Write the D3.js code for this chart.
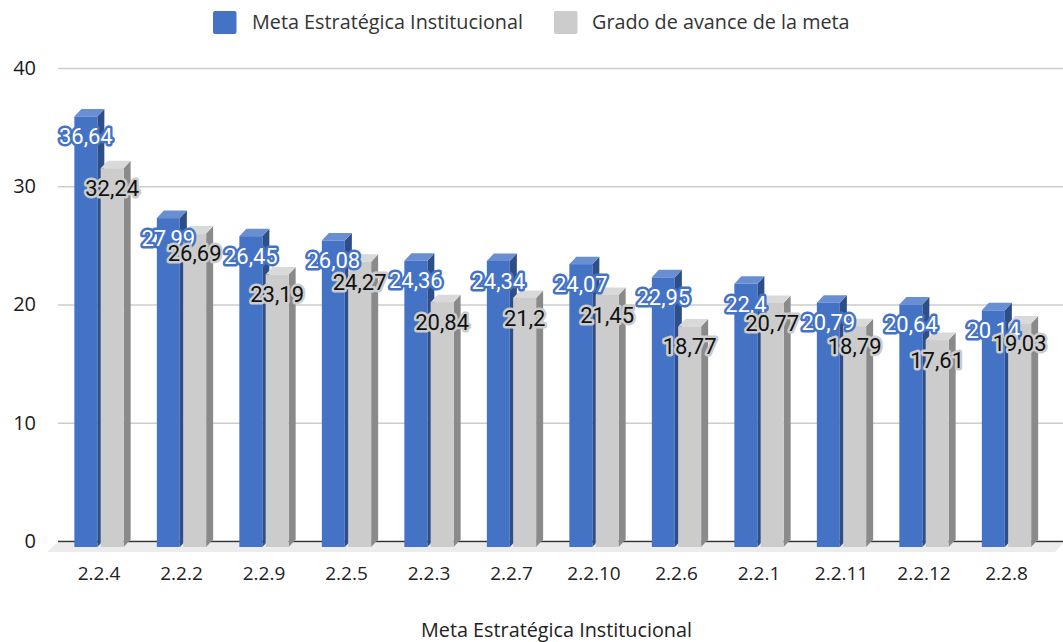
<!DOCTYPE html>
<html>
<head>
<meta charset="utf-8">
<script src="https://d3js.org/d3.v7.min.js"></script>
<style>
body { margin: 0; background: #fff; }
text { font-family: "Open Sans", sans-serif; }
</style>
</head>
<body>
<script>
var categories = ['2.2.4', '2.2.2', '2.2.9', '2.2.5', '2.2.3', '2.2.7', '2.2.10', '2.2.6', '2.2.1', '2.2.11', '2.2.12', '2.2.8'];
var meta = [36.64, 27.99, 26.45, 26.08, 24.36, 24.34, 24.07, 22.95, 22.4, 20.79, 20.64, 20.14];
var avance = [32.24, 26.69, 23.19, 24.27, 20.84, 21.2, 21.45, 18.77, 20.77, 18.79, 17.61, 19.03];
var metaLabels = ['36,64', '27,99', '26,45', '26,08', '24,36', '24,34', '24,07', '22,95', '22,4', '20,79', '20,64', '20,14'];
var avanceLabels = ['32,24', '26,69', '23,19', '24,27', '20,84', '21,2', '21,45', '18,77', '20,77', '18,79', '17,61', '19,03'];
var seriesNames = ['Meta Estratégica Institucional', 'Grado de avance de la meta'];
var yTicks = [0, 10, 20, 30, 40];

var width = 1063;
var height = 642;
var depthX = 7;
var depthY = 7.5;

var svg = d3.select('body')
    .append('svg')
    .attr('width', width)
    .attr('height', height)
    .style('display', 'block');

// the back wall sits higher than the front of the bars, so two y scales
var yWall = d3.scaleLinear().domain([0, 40]).range([541, 68]);
var yBar = d3.scaleLinear().domain([0, 40]).range([547, 77]);

var x0 = d3.scaleBand().domain(categories).range([57.75, 1047.75]);
var x1 = d3.scaleBand().domain(seriesNames)
    .range([x0.bandwidth() / 2 - 24.65, x0.bandwidth() / 2 + 24.65])
    .paddingInner(0.1255);

// floor
svg.append('path')
    .attr('d', 'M47,552 L57,543 L1063,543 L1055,552 Z')
    .attr('fill', '#ececec');

// grid
var yAxis = d3.axisLeft(yWall).tickValues(yTicks).tickSize(-(width - 58)).tickPadding(20);
var gy = svg.append('g').attr('transform', 'translate(58,0)').call(yAxis);
gy.select('.domain').remove();
gy.selectAll('.tick line')
    .attr('stroke', function(d) { return d === 0 ? '#333333' : '#cccccc'; })
    .attr('stroke-width', 1.6);
gy.selectAll('.tick text')
    .attr('x', -22)
    .attr('fill', '#1a1a1a')
    .style('font-family', '"Open Sans", sans-serif')
    .style('font-size', '20px');

var xAxis = d3.axisBottom(x0).tickSize(0).tickPadding(0);
var gx = svg.append('g').attr('transform', 'translate(0,566)').call(xAxis);
gx.select('.domain').remove();
gx.selectAll('.tick text')
    .attr('fill', '#222222')
    .style('font-family', '"Open Sans", sans-serif')
    .style('font-size', '19px');

var styles = [
    { front: '#4472c4', top: '#6a8ed2', side: '#2e4e88', text: '#ffffff', halo: '#4472c4' },
    { front: '#cccccc', top: '#d9d9d9', side: '#8a8a8a', text: '#111111', halo: '#cccccc' }
];
var values = [meta, avance];
var labels = [metaLabels, avanceLabels];

// bars, one group per category so the left one is painted first
categories.forEach(function(c, i) {
    var g = svg.append('g').attr('class', 'bars');
    seriesNames.forEach(function(s, k) {
        var left = x0(c) + x1(s);
        var right = left + x1.bandwidth();
        var top = yBar(values[k][i]);
        var bottom = yBar(0);
        g.append('path')
            .attr('d', 'M' + right + ',' + top + ' L' + (right + depthX) + ',' + (top - depthY) +
                ' L' + (right + depthX) + ',' + (bottom - depthY) + ' L' + right + ',' + bottom + ' Z')
            .attr('fill', styles[k].side);
        g.append('path')
            .attr('d', 'M' + left + ',' + top + ' L' + (left + depthX) + ',' + (top - depthY) +
                ' L' + (right + depthX) + ',' + (top - depthY) + ' L' + right + ',' + top + ' Z')
            .attr('fill', styles[k].top);
        g.append('rect')
            .attr('x', left)
            .attr('y', top)
            .attr('width', x1.bandwidth())
            .attr('height', bottom - top)
            .attr('fill', styles[k].front);
    });
});

// data labels, the second series goes on top
seriesNames.forEach(function(s, k) {
    svg.append('g').selectAll('text')
        .data(categories)
        .enter()
        .append('text')
        .attr('x', function(c) { return x0(c) + x1(s) + x1.bandwidth() / 2; })
        .attr('y', function(c, i) { return yBar(values[k][i]) + 20; })
        .attr('dy', '.35em')
        .attr('text-anchor', 'middle')
        .attr('fill', styles[k].text)
        .attr('stroke', styles[k].halo)
        .attr('stroke-width', 5)
        .attr('stroke-linejoin', 'round')
        .attr('paint-order', 'stroke')
        .style('font-family', 'Roboto, sans-serif')
        .style('font-size', '22px')
        .text(function(c, i) { return labels[k][i]; });
});

// legend
var legendX = [213, 554];
var legendTextX = [252, 592];
seriesNames.forEach(function(s, k) {
    svg.append('rect')
        .attr('x', legendX[k])
        .attr('y', 11)
        .attr('width', 23.5)
        .attr('height', 23)
        .attr('rx', 2)
        .attr('fill', styles[k].front);
    svg.append('text')
        .attr('x', legendTextX[k])
        .attr('y', 29)
        .attr('fill', '#333333')
        .style('font-size', '19.8px')
        .text(s);
});

svg.append('text')
    .attr('x', 556.5)
    .attr('y', 636.5)
    .attr('text-anchor', 'middle')
    .attr('fill', '#222222')
    .style('font-size', '19.8px')
    .text(seriesNames[0]);
</script>
</body>
</html>
